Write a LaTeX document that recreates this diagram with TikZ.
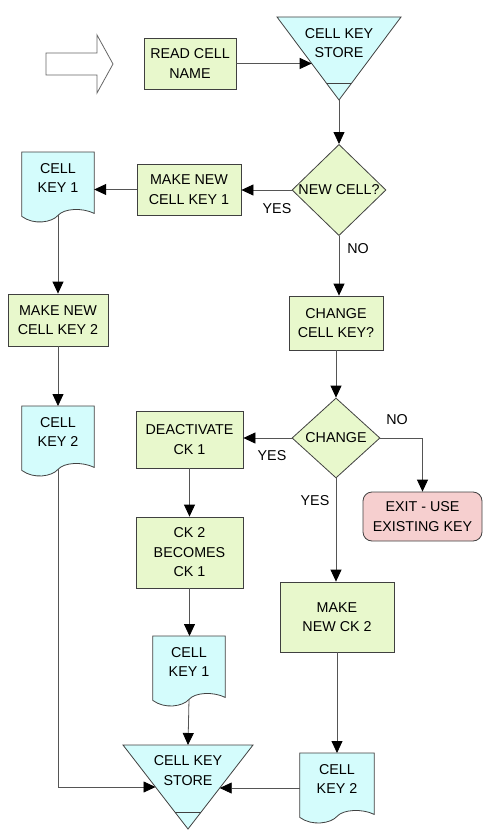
\documentclass[tikz,border=0pt]{standalone}
\usepackage{fontspec}
\setmainfont{Liberation Sans}
\usetikzlibrary{shapes.geometric,arrows.meta,calc}
\pgfdeclarelayer{background}
\pgfsetlayers{background,main}
\definecolor{boxgreen}{HTML}{E8F8CC}
\definecolor{doccyan}{HTML}{D4FCFC}
\definecolor{exitpink}{HTML}{F6CFCF}
\definecolor{edgegray}{HTML}{404040}
\definecolor{linegray}{HTML}{555555}
\newcommand{\docoutline}[1]{%
  \draw[docfill] (#1.north west) -- (#1.north east) -- ($(#1.south east)+(0,9)$)
    .. controls +(-12,-6) and +(6,-7) .. ($(#1.south)+(0,11)$)
    .. controls +(-6,7) and +(12,9) .. ($(#1.south west)+(0,12)$) -- cycle;}
\begin{document}
\begin{tikzpicture}[x=1pt,y=-1pt,
  every node/.style={font=\fontsize{14.3}{19.5}\selectfont, align=center},
  procbox/.style={draw=edgegray, fill=boxgreen, line width=0.8pt, inner sep=0pt},
  exitbox/.style={draw=edgegray, fill=exitpink, line width=0.8pt, inner sep=0pt, rounded corners=9pt},
  decision/.style={diamond, draw=edgegray, fill=boxgreen, line width=0.8pt, inner sep=0pt},
  docnode/.style={inner sep=0pt, minimum width=72pt, minimum height=52pt, anchor=north},
  docfill/.style={draw=edgegray, fill=doccyan, line width=0.8pt},
  lbl/.style={inner sep=0pt},
  conn/.style={draw=linegray, line width=0.8pt, -{Triangle[length=12pt,width=11pt,color=black]}}]
\useasboundingbox (0,0) rectangle (502,840);

% entry block arrow
\draw[draw=gray!80!black, fill=white, line width=0.8pt] (46,53) -- (97,53) -- (97,35) -- (113,64) -- (97,93) -- (97,75) -- (46,75) -- cycle;

% top store triangle
\coordinate (s1tl) at (277,17);
\coordinate (s1tr) at (401,17);
\coordinate (s1apex) at (339,100);
\draw[docfill] (s1tl) -- (s1tr) -- (s1apex) -- cycle;
\draw[draw=edgegray, line width=0.8pt] ($(s1tl)!0.8!(s1apex)$) -- ($(s1tr)!0.8!(s1apex)$);
\node (store1) at (339,43) {CELL KEY\\STORE};
\coordinate (s1in) at ($(s1tl)!0.56!(s1apex)$);

% bottom store triangle
\coordinate (s2tl) at (123,745);
\coordinate (s2tr) at (253,745);
\coordinate (s2apex) at (188,829);
\draw[docfill] (s2tl) -- (s2tr) -- (s2apex) -- cycle;
\draw[draw=edgegray, line width=0.8pt] ($(s2tl)!0.8!(s2apex)$) -- ($(s2tr)!0.8!(s2apex)$);
\node (store2) at (188,770.5) {CELL KEY\\STORE};
\coordinate (s2top) at ($(s2tl)!0.5!(s2tr)$);
\coordinate (s2inL) at ($(s2tl)!0.5!(s2apex)$);
\coordinate (s2inR) at ($(s2tr)!0.512!(s2apex)$);

% process boxes and decisions
\node[procbox, minimum width=92pt, minimum height=51pt] (read) at (190,63.5) {READ CELL\\NAME};
\node[procbox, minimum width=104pt, minimum height=51pt] (mk1) at (189,189.5) {MAKE NEW\\CELL KEY 1};
\node[decision, minimum width=94pt, minimum height=91pt] (newcell) at (339,190) {NEW CELL?};
\node[procbox, minimum width=100pt, minimum height=52pt] (mk2) at (58,320) {MAKE NEW\\CELL KEY 2};
\node[procbox, minimum width=94pt, minimum height=54pt] (chg) at (336,323) {CHANGE\\CELL KEY?};
\node[decision, minimum width=88pt, minimum height=80pt] (change) at (336,438) {CHANGE};
\node[procbox, minimum width=107pt, minimum height=57pt] (deact) at (189.5,439.5) {DEACTIVATE\\CK 1};
\node[exitbox, minimum width=119pt, minimum height=49pt] (exit) at (422.5,516.5) {EXIT - USE\\EXISTING KEY};
\node[procbox, minimum width=107pt, minimum height=71pt] (becomes) at (189.5,552.5) {CK 2\\BECOMES\\CK 1};
\node[procbox, minimum width=114pt, minimum height=70pt] (mkck2) at (337,617) {MAKE\\NEW CK 2};

% documents
\node[docnode] (dk1) at (58,152) {CELL\\KEY 1};
\node[docnode] (dk2) at (58,406) {CELL\\KEY 2};
\node[docnode] (dk1b) at (189,636) {CELL\\KEY 1};
\node[docnode, minimum width=74pt] (dk2b) at (337,753) {CELL\\KEY 2};
\begin{pgfonlayer}{background}
\docoutline{dk1}
\docoutline{dk2}
\docoutline{dk1b}
\docoutline{dk2b}
\end{pgfonlayer}

% labels
\node[lbl] (yes1) at (277,209) {YES};
\node[lbl] (no1) at (358,249) {NO};
\node[lbl] (no2) at (397,420) {NO};
\node[lbl] (yes2) at (272,456) {YES};
\node[lbl] (yes3) at (315,501) {YES};

% connectors
\draw[conn] (read.east) -- (s1in);
\draw[conn] (s1apex) -- (newcell.north);
\draw[conn] (newcell.west) -- (newcell.west -| mk1.east);
\draw[conn] (mk1.west) -- (mk1.west -| dk1.east);
\draw[conn] ($(dk1.south)+(0,11)$) -- (mk2.north);
\draw[conn] (mk2.south) -- (dk2.north);
\draw[conn] (newcell.south) -- (newcell.south |- chg.north);
\draw[conn] (chg.south) -- (change.north);
\draw[conn] (change.west) -- (change.west -| deact.east);
\draw[conn] (change.east) -| (exit.north);
\draw[conn] (change.south) -- (change.south |- mkck2.north);
\draw[conn] (deact.south) -- (becomes.north);
\draw[conn] (becomes.south) -- (becomes.south |- dk1b.north);
\draw[conn] ($(dk1b.south)+(0,11)$) -- (s2top);
\draw[conn] (mkck2.south) -- (mkck2.south |- dk2b.north);
\draw[conn] (s2inR -| dk2b.west) -- (s2inR);
\draw[conn] ($(dk2.south)+(0,11)$) |- (s2inL);
\end{tikzpicture}
\end{document}
